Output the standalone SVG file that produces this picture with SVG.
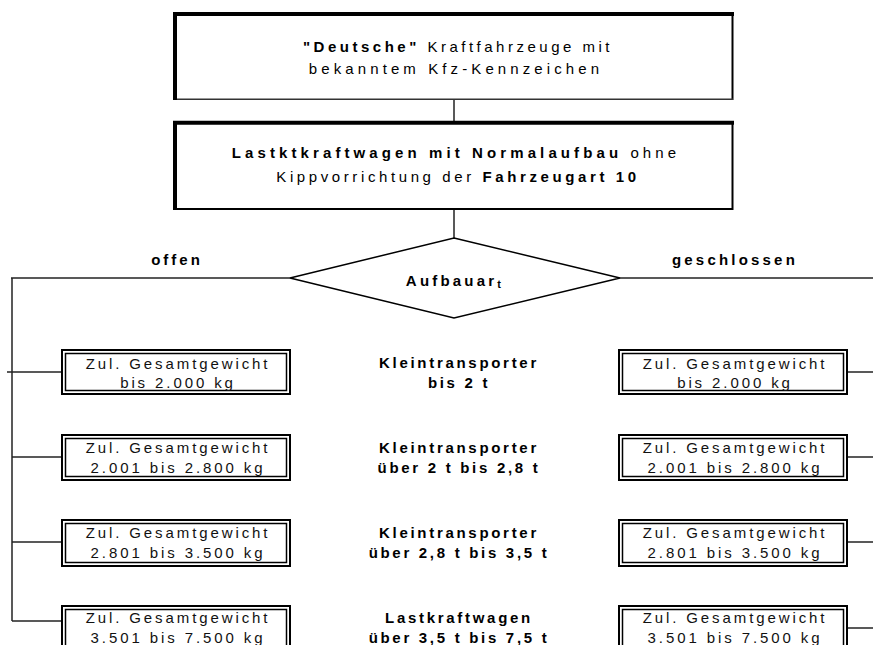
<svg xmlns="http://www.w3.org/2000/svg" width="873" height="645" viewBox="0 0 873 645">
<style>
text { font-family: "Liberation Sans", Arial, Helvetica, sans-serif; font-size: 15px; fill: #000; }
.b { font-weight: bold; }
.sm { letter-spacing: 2.9px; text-anchor: middle; fill: #111; }
.ct { letter-spacing: 2.7px; text-anchor: middle; font-weight: bold; }
.con { stroke: #222; stroke-width: 1.5; fill: none; }
.o { fill: #fff; stroke: #000; stroke-width: 2; }
.i { fill: none; stroke: #000; stroke-width: 1.5; }
.thick { stroke: #000; stroke-width: 4; }
.thin { stroke: #000; stroke-width: 2; }
.hair { stroke: #333; stroke-width: 1.5; }
</style>

<g id="connectors">
  <line class="con" x1="454" y1="100" x2="454" y2="121"/>
  <line class="con" x1="454" y1="209" x2="454" y2="238"/>
  <line class="con" x1="11" y1="278" x2="290" y2="278"/>
  <line class="con" x1="620" y1="278" x2="873" y2="278"/>
  <line class="con" x1="12" y1="278" x2="12" y2="621"/>
  <line class="con" x1="7" y1="372" x2="61" y2="372"/>
  <line class="con" x1="12" y1="457" x2="61" y2="457"/>
  <line class="con" x1="12" y1="542" x2="61" y2="542"/>
  <line class="con" x1="12" y1="621" x2="61" y2="621"/>
  <line class="con" x1="847" y1="372" x2="873" y2="372"/>
  <line class="con" x1="847" y1="457" x2="873" y2="457"/>
  <line class="con" x1="847" y1="542" x2="873" y2="542"/>
  <line class="con" x1="847" y1="628" x2="873" y2="628"/>
</g>

<g id="node-deutsche">
  <rect x="175" y="14" width="558" height="85" fill="#fff"/>
  <line class="thin" x1="732.5" y1="13" x2="732.5" y2="100"/>
  <line class="hair" x1="175" y1="99.3" x2="733" y2="99.3"/>
  <line class="thick" x1="173" y1="14" x2="734" y2="14"/>
  <line class="thick" x1="175" y1="12" x2="175" y2="100"/>
  <text x="458" y="52" text-anchor="middle" style="letter-spacing:3.5px"><tspan class="b">"Deutsche"</tspan> Kraftfahrzeuge mit</text>
  <text x="456" y="74" text-anchor="middle" style="letter-spacing:4.1px">bekanntem Kfz-Kennzeichen</text>
</g>

<g id="node-lkw">
  <rect x="175" y="123" width="558" height="86" fill="#fff"/>
  <line class="thin" x1="732.5" y1="121" x2="732.5" y2="210"/>
  <line class="thin" x1="175" y1="209" x2="733" y2="209"/>
  <line class="thick" x1="173" y1="122.7" x2="734" y2="122.7"/>
  <line class="thick" x1="175" y1="121" x2="175" y2="210"/>
  <text x="456" y="158" text-anchor="middle" style="letter-spacing:4.1px"><tspan class="b">Lastktkraftwagen mit Normalaufbau</tspan> ohne</text>
  <text x="458" y="182" text-anchor="middle" style="letter-spacing:3.6px">Kippvorrichtung der <tspan class="b">Fahrzeugart 10</tspan></text>
</g>

<g id="node-aufbauart">
  <polygon points="454,238 620,278 454,318 290,278" fill="#fff" stroke="#000" stroke-width="1.5"/>
  <text x="455" y="286" text-anchor="middle" class="b" style="letter-spacing:3.2px">Aufbauar<tspan font-size="11" dy="1.5">t</tspan></text>
</g>

<g id="label-offen">
  <text x="177" y="265" text-anchor="middle" class="b" style="letter-spacing:3px">offen</text>
</g>
<g id="label-geschlossen">
  <text x="735" y="265" text-anchor="middle" class="b" style="letter-spacing:3.2px">geschlossen</text>
</g>

<g id="left-1">
  <rect class="o" x="62" y="350" width="228" height="44"/>
  <rect class="i" x="65.5" y="353.5" width="221" height="37"/>
  <text class="sm" x="178" y="369">Zul. Gesamtgewicht</text>
  <text class="sm" x="178" y="388">bis 2.000 kg</text>
</g>
<g id="left-2">
  <rect class="o" x="62" y="435" width="228" height="45"/>
  <rect class="i" x="65.5" y="438.5" width="221" height="38"/>
  <text class="sm" x="178" y="453">Zul. Gesamtgewicht</text>
  <text class="sm" x="178" y="473">2.001 bis 2.800 kg</text>
</g>
<g id="left-3">
  <rect class="o" x="62" y="520" width="228" height="46"/>
  <rect class="i" x="65.5" y="523.5" width="221" height="39"/>
  <text class="sm" x="178" y="538">Zul. Gesamtgewicht</text>
  <text class="sm" x="178" y="558">2.801 bis 3.500 kg</text>
</g>
<g id="left-4">
  <rect class="o" x="62" y="606" width="228" height="46"/>
  <rect class="i" x="65.5" y="609.5" width="221" height="39"/>
  <text class="sm" x="178" y="623">Zul. Gesamtgewicht</text>
  <text class="sm" x="178" y="643">3.501 bis 7.500 kg</text>
</g>

<g id="center-1">
  <text class="ct" x="459" y="368">Kleintransporter</text>
  <text class="ct" x="459" y="388">bis 2 t</text>
</g>
<g id="center-2">
  <text class="ct" x="459" y="453">Kleintransporter</text>
  <text class="ct" x="459" y="473">über 2 t bis 2,8 t</text>
</g>
<g id="center-3">
  <text class="ct" x="459" y="538">Kleintransporter</text>
  <text class="ct" x="459" y="558">über 2,8 t bis 3,5 t</text>
</g>
<g id="center-4">
  <text class="ct" x="459" y="623">Lastkraftwagen</text>
  <text class="ct" x="459" y="643">über 3,5 t bis 7,5 t</text>
</g>

<g id="right-1">
  <rect class="o" x="619" y="350" width="228" height="44"/>
  <rect class="i" x="622.5" y="353.5" width="221" height="37"/>
  <text class="sm" x="735" y="369">Zul. Gesamtgewicht</text>
  <text class="sm" x="735" y="388">bis 2.000 kg</text>
</g>
<g id="right-2">
  <rect class="o" x="619" y="435" width="228" height="45"/>
  <rect class="i" x="622.5" y="438.5" width="221" height="38"/>
  <text class="sm" x="735" y="453">Zul. Gesamtgewicht</text>
  <text class="sm" x="735" y="473">2.001 bis 2.800 kg</text>
</g>
<g id="right-3">
  <rect class="o" x="619" y="520" width="228" height="46"/>
  <rect class="i" x="622.5" y="523.5" width="221" height="39"/>
  <text class="sm" x="735" y="538">Zul. Gesamtgewicht</text>
  <text class="sm" x="735" y="558">2.801 bis 3.500 kg</text>
</g>
<g id="right-4">
  <rect class="o" x="619" y="606" width="228" height="46"/>
  <rect class="i" x="622.5" y="609.5" width="221" height="39"/>
  <text class="sm" x="735" y="623">Zul. Gesamtgewicht</text>
  <text class="sm" x="735" y="643">3.501 bis 7.500 kg</text>
</g>
</svg>
